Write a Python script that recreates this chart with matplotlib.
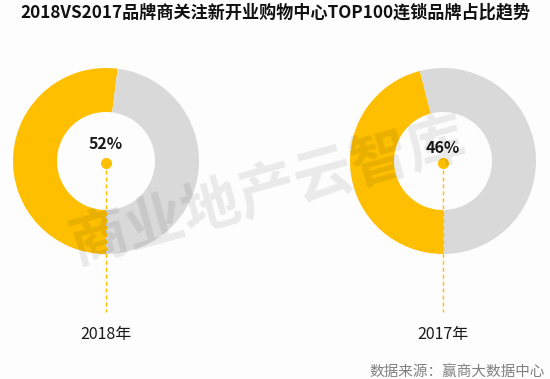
import matplotlib
matplotlib.use("Agg")
import matplotlib.pyplot as plt

plt.rcParams['font.family'] = ['Noto Sans CJK SC', 'DejaVu Sans']

title = "2018VS2017品牌商关注新开业购物中心TOP100连锁品牌占比趋势"
years = ["2018年", "2017年"]
shares = [52, 46]
source = "数据来源：赢商大数据中心"
watermark = "商业地产云智库"

YELLOW = "#FDBF00"
GRAY = "#D9D9D9"

W, H = 550, 379
fig = plt.figure(figsize=(W / 100, H / 100), dpi=100, facecolor="#FDFDFD")
ax = fig.add_axes([0, 0, 1, 1])
ax.set_xlim(0, W)
ax.set_ylim(0, H)
ax.set_aspect("equal")
ax.axis("off")

centers_x = [106, 443]
cy = H - 161
R = 93
inner = 49

for cx, yr, s in zip(centers_x, years, shares):
    ax.pie([s, 100 - s], colors=[YELLOW, GRAY], startangle=270, counterclock=False,
           center=(cx, cy), radius=R, wedgeprops=dict(width=R - inner, edgecolor="none"),
           frame=True)
    ax.plot([cx, cx], [cy - 2, H - 312], color=YELLOW, lw=1, ls=(0, (3, 2)))
    ax.plot([cx], [cy - 2], 'o', color=YELLOW, ms=8, mec="none")
    ax.text(cx, cy + 17 - (4 if s < 50 else 0), f"{s}%", ha="center", va="center",
            fontsize=11.5, fontweight="bold", color="#1a1a1a")
    ax.text(cx, H - 334, yr, ha="center", va="center", fontsize=11.5, color="#1a1a1a")

ax.set_xlim(0, W)
ax.set_ylim(0, H)
ax.axis("off")

ax.text(W / 2, H - 12, title, ha="center", va="center", fontsize=12.3,
        fontweight="bold", color="#111111")
ax.text(545, H - 373, source, ha="right", va="center", fontsize=10.5, color="#808080")
ax.text(268, H - 192, watermark, ha="center", va="center", fontsize=42,
        color="#000000", alpha=0.08, rotation=15.6, fontweight="bold")

fig.savefig("out.png", dpi=100, facecolor=fig.get_facecolor())
